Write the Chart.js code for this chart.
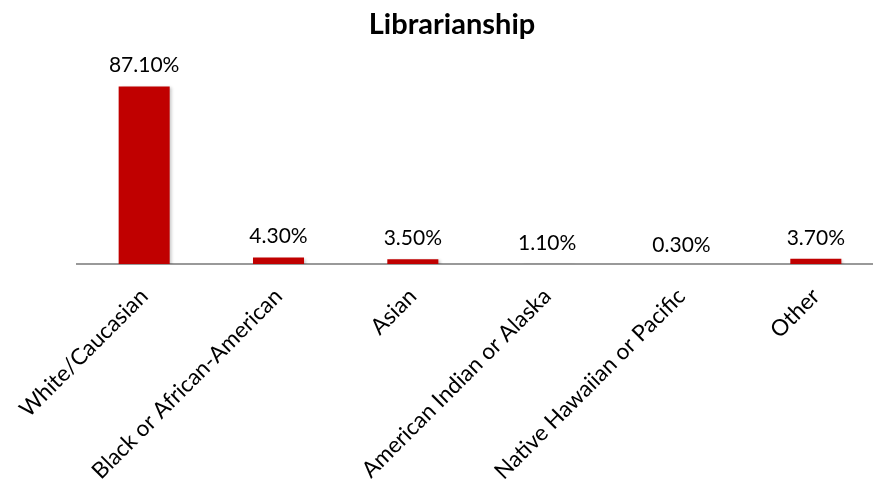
<!DOCTYPE html>
<html>
<head>
<meta charset="utf-8">
<script src="https://cdn.jsdelivr.net/npm/chart.js@4.4.0/dist/chart.umd.min.js"></script>
<style>
  html, body { margin: 0; padding: 0; background: #fff; overflow: hidden; }
  #wrap { width: 904px; height: 490px; }
</style>
</head>
<body>
<div id="wrap"><canvas id="chart"></canvas></div>
<script>
const categories = ['White/Caucasian', 'Black or African-American', 'Asian',
  'American Indian or Alaska', 'Native Hawaiian or Pacific', 'Other'];
const shares = [87.1, 4.3, 3.5, 1.1, 0.3, 3.7];

const FONT = 'Lato, "Open Sans", sans-serif';

// light drop shadow behind the bars
const barShadow = {
  id: 'barShadow',
  beforeDatasetsDraw(chart) {
    const ctx = chart.ctx;
    ctx.save();
    ctx.shadowColor = 'rgba(0,0,0,0.22)';
    ctx.shadowBlur = 3;
    ctx.shadowOffsetX = 2;
    ctx.shadowOffsetY = 1;
  },
  afterDatasetsDraw(chart) {
    chart.ctx.restore();
  }
};

// percentage label above each bar
const valueLabels = {
  id: 'valueLabels',
  afterDatasetsDraw(chart) {
    const ctx = chart.ctx;
    const y = chart.scales.y;
    const meta = chart.getDatasetMeta(0);
    ctx.save();
    ctx.font = '21px ' + FONT;
    ctx.fillStyle = '#000';
    ctx.textAlign = 'center';
    ctx.textBaseline = 'middle';
    meta.data.forEach((bar, i) => {
      const v = shares[i];
      ctx.fillText(v.toFixed(2) + '%', bar.x, y.getPixelForValue(v) - 21);
    });
    ctx.restore();
  }
};

new Chart(document.getElementById('chart'), {
  type: 'bar',
  data: {
    labels: categories,
    datasets: [{
      data: shares,
      backgroundColor: '#c00000',
      borderWidth: 0,
      barPercentage: 0.38,
      categoryPercentage: 1
    }]
  },
  options: {
    responsive: true,
    maintainAspectRatio: false,
    animation: false,
    layout: { padding: 0 },
    plugins: {
      legend: { display: false },
      tooltip: { enabled: false },
      title: {
        display: true,
        text: 'Librarianship',
        color: '#000',
        font: { family: FONT, size: 29, weight: 'bold' },
        padding: { top: 7, bottom: 18 }
      }
    },
    scales: {
      x: {
        grid: { display: false },
        border: { display: true, color: '#999', width: 2 },
        ticks: {
          color: '#000',
          font: { family: FONT, size: 22.5 },
          minRotation: 45,
          maxRotation: 45,
          autoSkip: false,
          padding: 11
        },
        afterFit(scale) {
          scale.paddingLeft = 77;
          scale.paddingRight = 21;
          scale.height = 226;
        }
      },
      y: {
        display: false,
        min: 1.2,
        max: 100
      }
    }
  },
  plugins: [barShadow, valueLabels]
});
</script>
</body>
</html>
